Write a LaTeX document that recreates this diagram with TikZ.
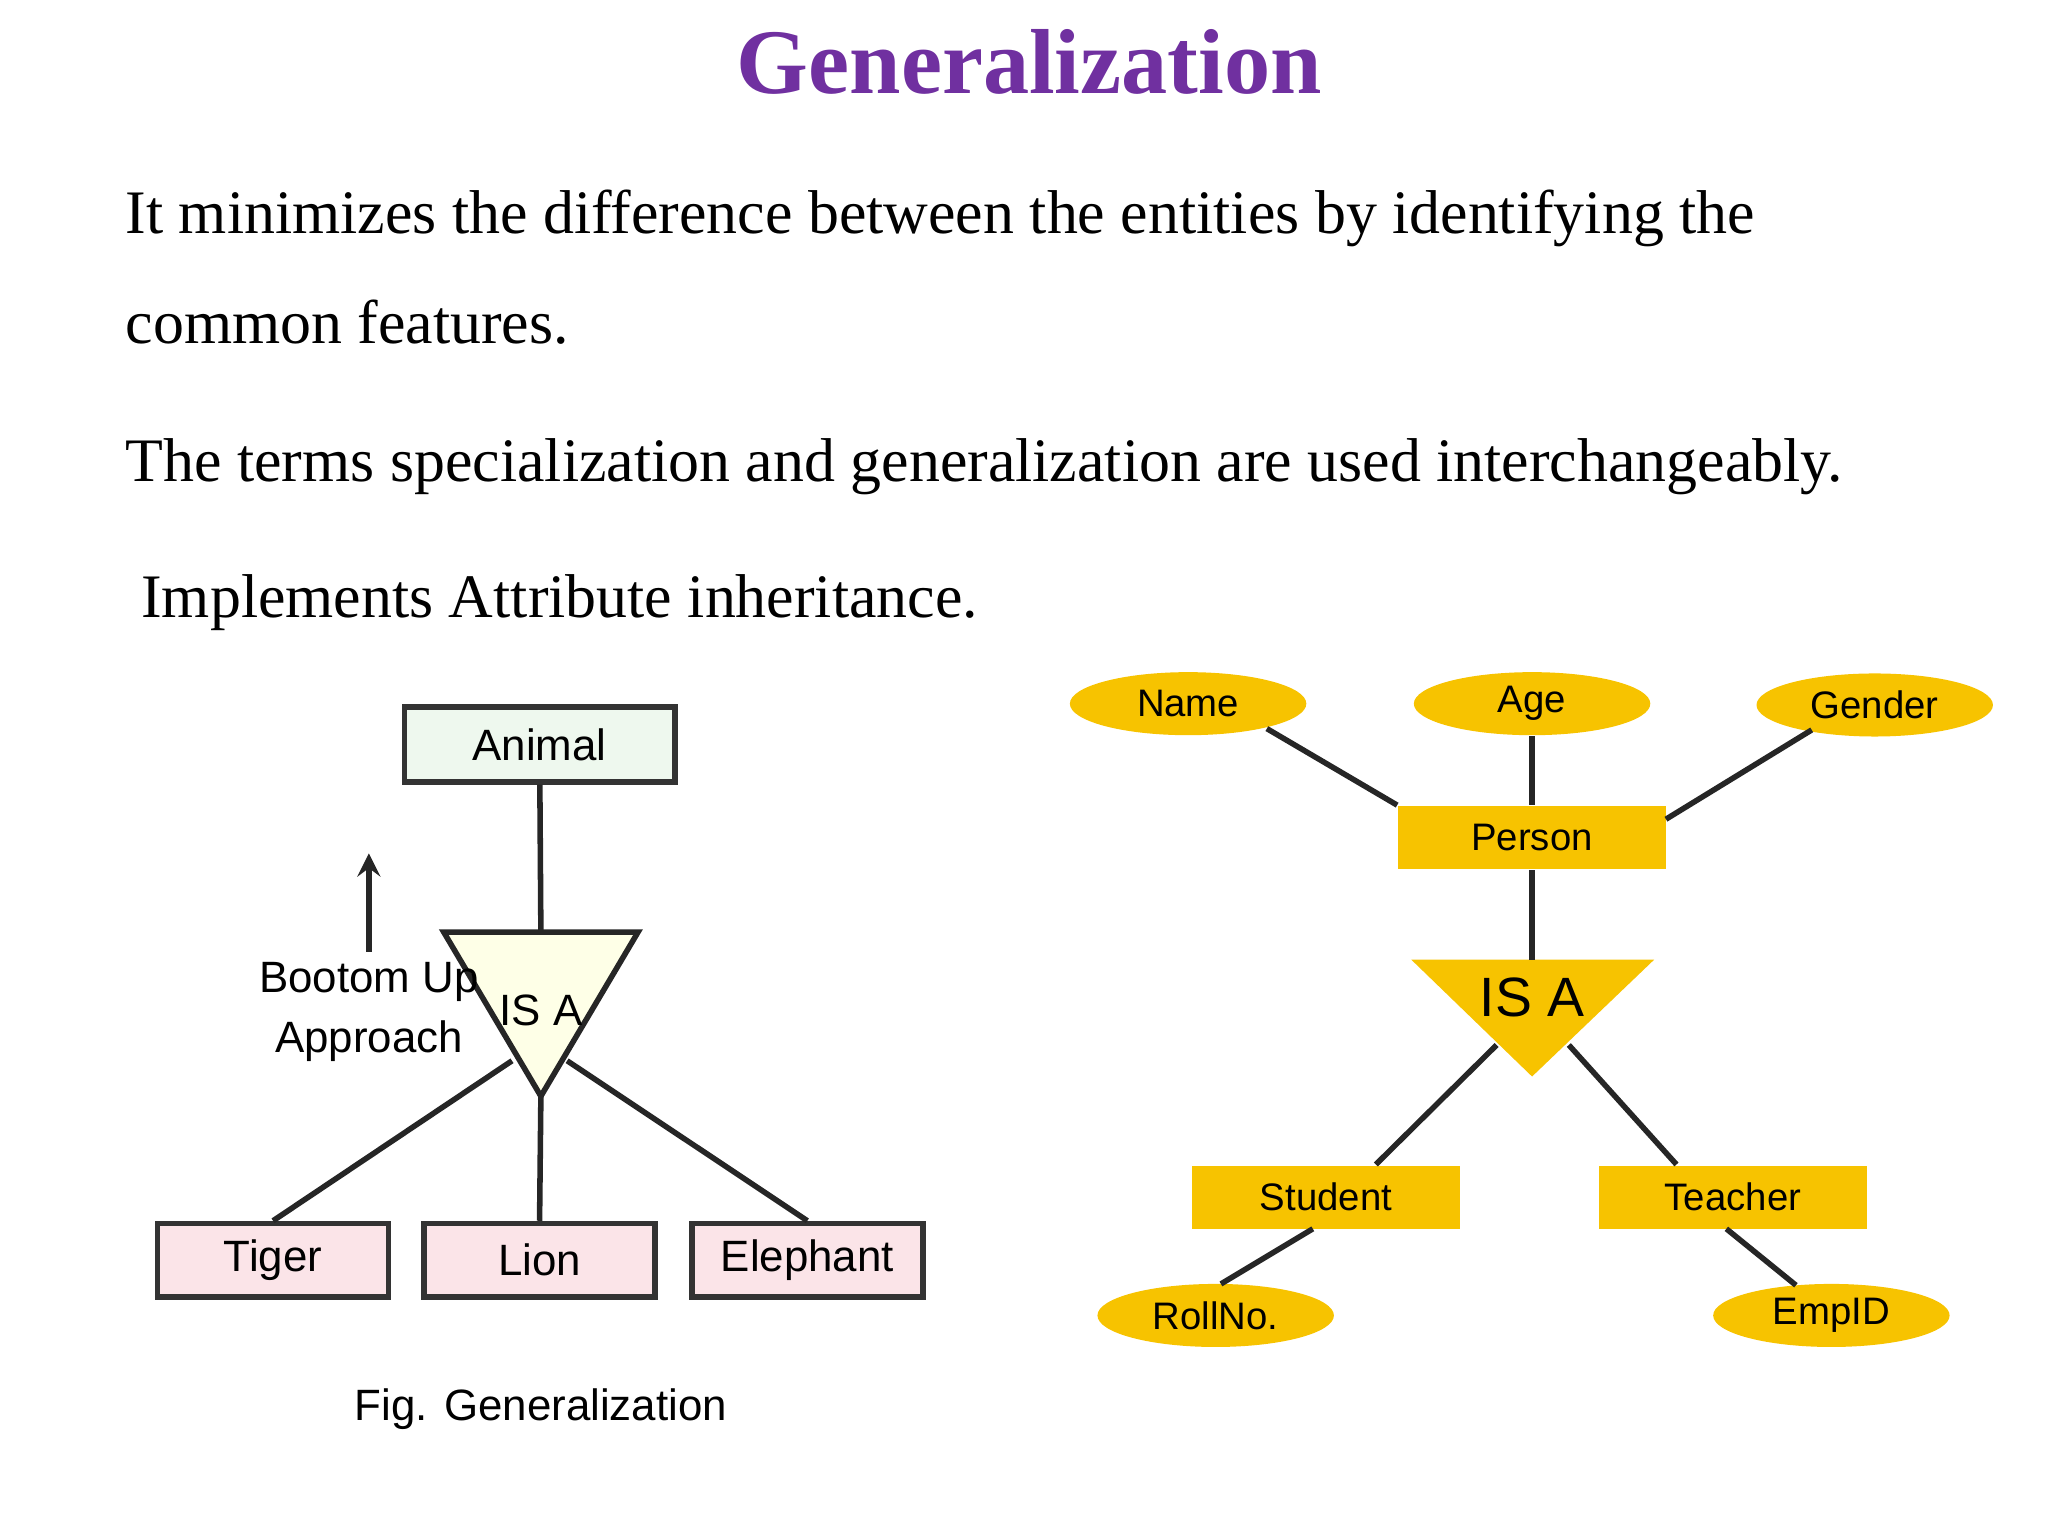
\documentclass[tikz,border=0pt]{standalone}
\usepackage{fontspec}
\setmainfont{Liberation Serif}
\newfontfamily\sansf{Liberation Sans}
\usetikzlibrary{shapes.geometric}
\definecolor{ttl}{HTML}{7030A0}
\definecolor{gold}{HTML}{F7C300}
\definecolor{lgreen}{HTML}{EEF8EE}
\definecolor{lpink}{HTML}{FBE4E8}
\begin{document}
\begin{tikzpicture}[x=0.01cm,y=-0.01cm,
 body/.style={anchor=base west,inner sep=0,font=\fontsize{13.4}{16}\selectfont},
 lbox/.style={draw=black!80,line width=1.2pt,minimum width=1.76cm,minimum height=0.56cm,font=\sansf\fontsize{9.5}{11}\selectfont},
 gbox/.style={fill=gold,minimum width=2.04cm,minimum height=0.48cm,font=\sansf\fontsize{8.3}{10}\selectfont},
 gell/.style={ellipse,fill=gold,minimum width=1.8cm,minimum height=0.48cm,inner sep=0,font=\sansf\fontsize{8.3}{10}\selectfont},
 ln/.style={line width=1.2pt,draw=black!85}]
\useasboundingbox (0,0) rectangle (1560,1170);
\node[font=\bfseries\fontsize{20}{24}\selectfont,text=ttl] (title) at (784,47) {Generalization};
\node[body] (t1) at (95,178) {It minimizes the difference between the entities by identifying the};
\node[body] (t2) at (95,262) {common features.};
\node[body] (t3) at (95,367) {The terms specialization and generalization are used interchangeably.};
\node[body] (t4) at (107,470) {Implements Attribute inheritance.};
% left
\node[lbox,fill=lgreen,minimum width=2.06cm,minimum height=0.57cm] (animal) at (411,567) {Animal};
\coordinate (tA) at (338,710); \coordinate (tB) at (486,710); \coordinate (tC) at (412,835);
\coordinate (ttop) at (412,710);
\draw[ln,fill=lgreen!40!yellow!15] (tA)--(tB)--(tC)--cycle;
\node[font=\sansf\fontsize{9.5}{11}\selectfont] (isa1) at (412,770) {IS A};
\node[lbox,fill=lpink] (tiger) at (208,960) {Tiger};
\node[lbox,fill=lpink] (lion) at (411,960) {Lion};
\node[lbox,fill=lpink] (eleph) at (615,960) {Elephant};
\coordinate (l1) at (390,808); \coordinate (l3) at (432,808);
\draw[ln] (animal)--(ttop);
\draw[ln] (l1)--(tiger.north); \draw[ln] (tC)--(lion.north); \draw[ln] (l3)--(eleph.north);
\node[font=\sansf\fontsize{9.5}{13}\selectfont,align=center] (bu) at (281,771) {Bootom Up\\Approach};
\coordinate (ar) at (281,650);
\draw[ln,-stealth] (281,725)--(ar);
\node[font=\sansf\fontsize{9.5}{11}\selectfont] (cap) at (412,1073) {Fig. Generalization};
% right
\node[gell] (name) at (905,536) {Name};
\node[gell] (age) at (1167,536) {Age};
\node[gell] (gender) at (1428,537) {Gender};
\node[gbox] (person) at (1167,638) {Person};
\draw[ln] (965,555)--(person.north west);
\draw[ln] (age)--(person);
\draw[ln] (1380,556)--(1269,624);
\coordinate (rA) at (1075,731); \coordinate (rB) at (1260,731); \coordinate (rC) at (1167,820);
\fill[gold] (rA)--(rB)--(rC)--cycle;
\draw[ln] (person)--(1167,731);
\node[font=\sansf\fontsize{12}{14}\selectfont] (isa2) at (1167,760) {IS A};
\node[gbox] (student) at (1010,912) {Student};
\node[gbox] (teacher) at (1320,912) {Teacher};
\draw[ln] (1140,796)--(1048,887);
\draw[ln] (1195,796)--(1277,887);
\node[gell] (roll) at (926,1002) {RollNo.};
\node[gell] (emp) at (1395,1002) {EmpID};
\draw[ln] (1000,936)--(930,978);
\draw[ln] (1315,936)--(1368,979);
\end{tikzpicture}
\end{document}
